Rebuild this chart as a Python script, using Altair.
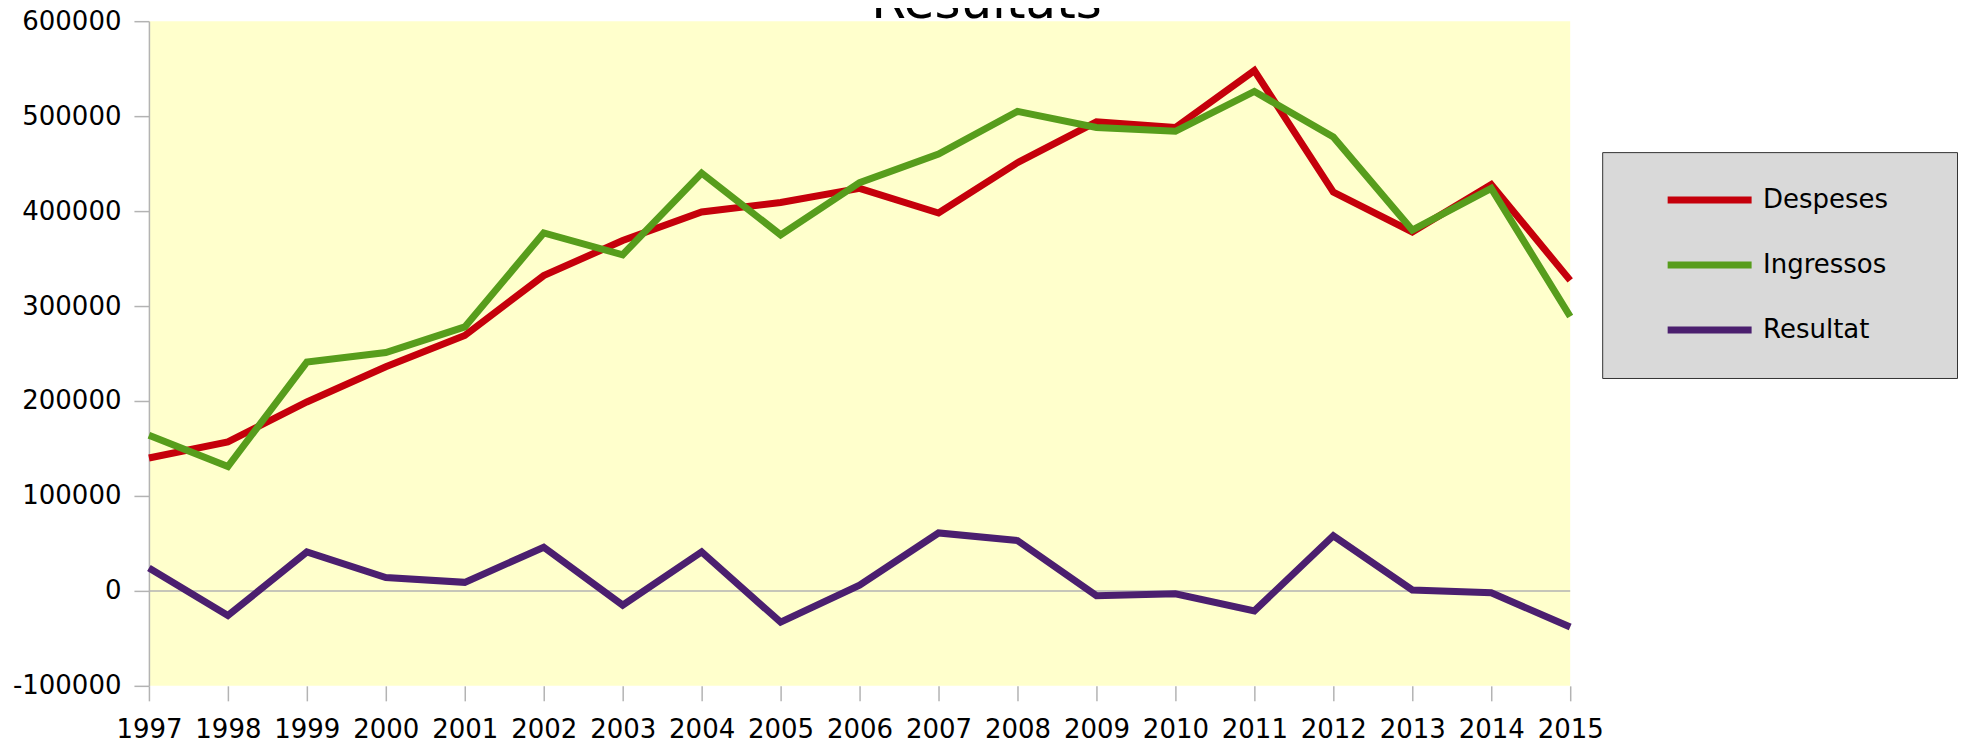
import altair as alt
import pandas as pd

years = list(range(1997, 2016))
despeses = [140000, 157000, 199000, 236000, 269000, 332000, 369000, 399000, 409000, 424000,
            398000, 451000, 494000, 488000, 548000, 420000, 378000, 428000, 327000]
ingressos = [164000, 131000, 241000, 251000, 278000, 377000, 354000, 440000, 375000, 430000,
             460000, 505000, 488000, 484000, 526000, 478000, 380000, 424000, 289000]
resultat = [24000, -26000, 41000, 14000, 9000, 46000, -15000, 41000, -33000, 6000,
            61000, 53000, -5000, -3000, -21000, 58000, 1000, -2000, -38000]
series_names = ["Despeses", "Ingressos", "Resultat"]
series_colors = ["#c5000b", "#579d1c", "#4b1f6f"]
y_ticks = [-100000, 0, 100000, 200000, 300000, 400000, 500000, 600000]
chart_title = "Resultats"

rows = []
for name, vals in zip(series_names, [despeses, ingressos, resultat]):
    for yr, v in zip(years, vals):
        rows.append({"Any": yr, "Valor": v, "Serie": name})
df = pd.DataFrame(rows)
zero_df = pd.DataFrame({"Valor": [0]})
title_df = pd.DataFrame({"Titol": [chart_title]})

FONT = "DejaVu Sans"
GRAY = "#b3b3b3"

x_scale = alt.Scale(domain=[years[0], years[-1]], nice=False, zero=False)
y_scale = alt.Scale(domain=[y_ticks[0], y_ticks[-1]], nice=False)

zero_rule = alt.Chart(zero_df).mark_rule(color=GRAY, strokeWidth=1.5).encode(
    y=alt.Y("Valor:Q", scale=y_scale)
)

lines = alt.Chart(df).mark_line(strokeWidth=7, strokeJoin="miter", strokeCap="butt").encode(
    x=alt.X("Any:Q", scale=x_scale,
            axis=alt.Axis(values=years, format="d", title=None, domain=False, grid=False,
                          tickSize=15, tickColor=GRAY, tickWidth=1.5, labelPadding=16,
                          labelFlush=False, labelOverlap=False, labelAngle=0,
                          labelFont=FONT, labelFontSize=26, labelColor="black")),
    y=alt.Y("Valor:Q", scale=y_scale,
            axis=alt.Axis(values=y_ticks, labelExpr="'' + datum.value", title=None, grid=False,
                          domainColor=GRAY, domainWidth=1.5, tickSize=15, tickColor=GRAY,
                          tickWidth=1.5, labelPadding=13,
                          labelFont=FONT, labelFontSize=26, labelColor="black")),
    color=alt.Color("Serie:N",
                    scale=alt.Scale(domain=series_names, range=series_colors),
                    sort=series_names,
                    legend=alt.Legend(title=None, orient="none", legendX=1454, legendY=131,
                                      fillColor="#d9d9d9", strokeColor="#333333",
                                      padding=35, symbolOffset=27, rowPadding=39,
                                      clipHeight=26,
                                      symbolType="stroke", symbolSize=7056,
                                      symbolStrokeWidth=7, labelOffset=8, labelLimit=400,
                                      labelExpr="datum.label + '\u00a0\u00a0\u00a0\u00a0\u200b'",
                                      labelFont=FONT, labelFontSize=26, labelColor="black")),
    order=alt.Order("Any:Q"),
)

title_text = alt.Chart(title_df).mark_text(
    font=FONT, fontSize=50, color="black", align="center", baseline="alphabetic"
).encode(text="Titol:N", x=alt.value(838), y=alt.value(-3))

chart = alt.layer(zero_rule, lines, title_text).properties(
    width=1422,
    height=665,
    autosize=alt.AutoSizeParams(type="none"),
    padding={"left": 141, "top": 13, "right": 389, "bottom": 61},
).configure_view(fill="#ffffcc", stroke=None)

chart.save("out.html", embed_options={"renderer": "svg", "actions": False})
